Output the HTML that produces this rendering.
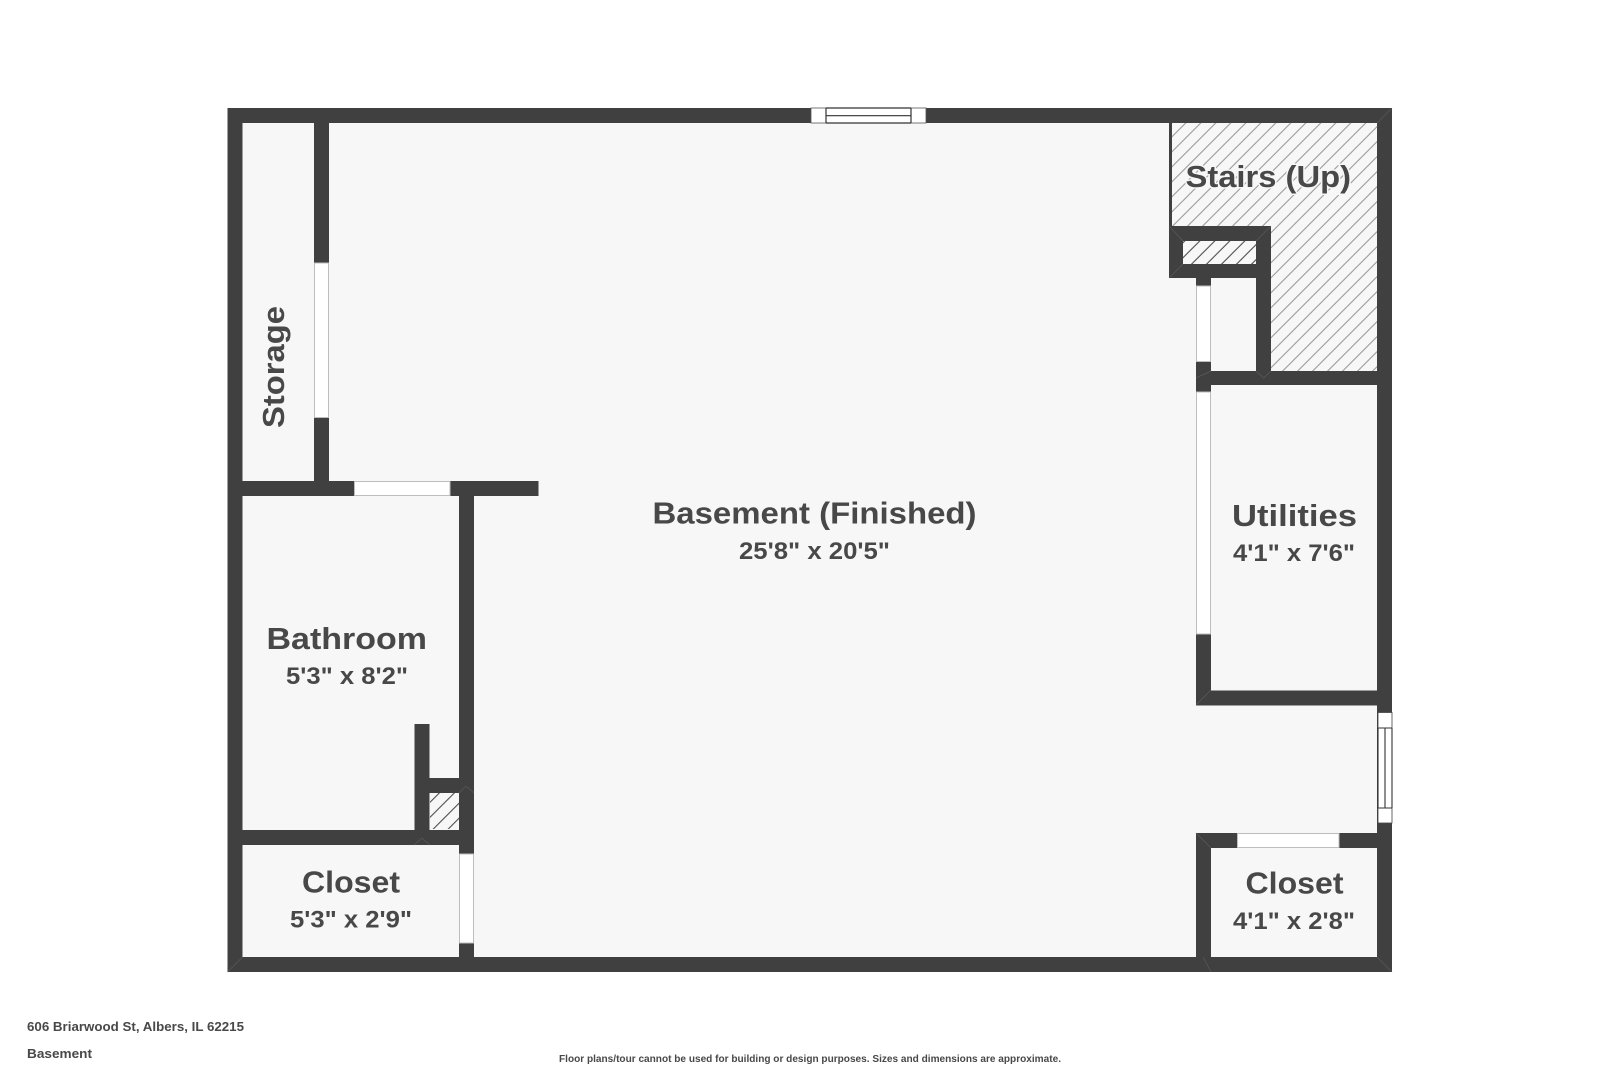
<!DOCTYPE html>
<html>
<head>
<meta charset="utf-8">
<style>
html,body{margin:0;padding:0;background:#fff;width:1620px;height:1080px;overflow:hidden}
svg{display:block}
text{font-family:"Liberation Sans",sans-serif;font-weight:700;fill:#484848}
</style>
</head>
<body>
<svg width="1620" height="1080" viewBox="0 0 1620 1080" xmlns="http://www.w3.org/2000/svg">
<defs>
<pattern id="h" width="15" height="15" patternUnits="userSpaceOnUse" patternTransform="translate(3.7 0)">
<path d="M-2 2L2 -2M0 15L15 0M13 17L17 13" stroke="#959595" stroke-width="1" fill="none"/>
</pattern>
<pattern id="k" width="15" height="15" patternUnits="userSpaceOnUse" patternTransform="translate(0.7 0)">
<path d="M-2 2L2 -2M0 15L15 0M13 17L17 13" stroke="#444" stroke-width="1" fill="none"/>
</pattern>
<pattern id="k2" width="15" height="15" patternUnits="userSpaceOnUse" patternTransform="translate(2.3 0)">
<path d="M-2 2L2 -2M0 15L15 0M13 17L17 13" stroke="#444" stroke-width="1" fill="none"/>
</pattern>
</defs>
<rect x="227.5" y="108" width="1164.5" height="864" fill="#f7f7f7"/>
<!-- stairs hatch -->
<path d="M1172 123H1377V371H1271V226H1172Z" fill="url(#h)"/>
<rect x="1183" y="241" width="73" height="23" fill="url(#k)"/>
<rect x="430" y="793" width="29" height="36" fill="url(#k2)"/>
<!-- walls -->
<g fill="#404040">
<rect x="227.5" y="108" width="1164.5" height="15"/>
<rect x="227.5" y="957" width="1164.5" height="15"/>
<rect x="227.5" y="108" width="15" height="864"/>
<rect x="1377" y="108" width="15" height="864"/>
<rect x="314" y="123" width="15" height="358"/>
<rect x="227.5" y="481" width="311" height="15"/>
<rect x="459" y="481" width="15" height="491"/>
<rect x="227.5" y="830" width="246.5" height="15"/>
<rect x="414.5" y="724" width="15" height="121"/>
<rect x="414.5" y="778" width="59.5" height="15"/>
<rect x="1169" y="123" width="3" height="103"/>
<rect x="1169" y="226" width="102" height="15"/>
<rect x="1169" y="226" width="14" height="52"/>
<rect x="1169" y="264" width="102" height="14"/>
<rect x="1256" y="226" width="15" height="159"/>
<rect x="1196" y="264" width="15" height="441"/>
<rect x="1196" y="371" width="196" height="14"/>
<rect x="1196" y="690.500" width="196" height="15"/>
<rect x="1196" y="833" width="196" height="15"/>
<rect x="1196" y="833" width="15" height="139"/>
</g>
<!-- wall seams -->
<g stroke="#5a5a5a" stroke-width="0.7" fill="none">
<path d="M227.500 972L242.500 957M1392 108L1377 123M1392 972L1377 957M1196 705L1211 690M1196 833L1211 848"/>
<path d="M1169 226L1183 241M1256 241L1271 226M1169 278L1183 264M1196 378L1211 371M1256 371L1263.500 378L1271 371"/>
<path d="M1211 972L1203 957M474 793L466 786M459 793L466 786M414 845L422 838L430 845"/>
</g>
<!-- top window -->
<g>
<rect x="811" y="108" width="115" height="15" fill="#fff" stroke="#555" stroke-width="0.8"/>
<path d="M826 108V123M911 108V123M826 108H911M826 123H911" stroke="#333" stroke-width="1.200" fill="none"/>
<path d="M826 115.700H911" stroke="#333" stroke-width="1.200"/>
</g>
<!-- right window -->
<g>
<rect x="1378" y="712.500" width="14" height="110.500" fill="#fff" stroke="#444" stroke-width="0.8"/>
<path d="M1378 728H1392M1378 808H1392M1378 728V808M1392 728V808M1385 728V808" stroke="#333" stroke-width="1.100" fill="none"/>
</g>
<!-- door openings -->
<g fill="#fff" stroke="#bdbdbd" stroke-width="1">
<rect x="314.500" y="263" width="14" height="154.500"/>
<rect x="354.500" y="481.500" width="95.500" height="14"/>
<rect x="459.500" y="854" width="14" height="89"/>
<rect x="1196.500" y="286" width="14" height="75.500"/>
<rect x="1196.500" y="392" width="14" height="242"/>
<rect x="1237.500" y="833.500" width="101.500" height="14"/>
</g>
<!-- labels -->
<text x="652.500" y="523.500" font-size="31" textLength="324" lengthAdjust="spacingAndGlyphs">Basement (Finished)</text>
<text x="739" y="559" font-size="24" textLength="151" lengthAdjust="spacingAndGlyphs">25'8" x 20'5"</text>
<text x="1185.500" y="187" font-size="31" textLength="165.500" lengthAdjust="spacingAndGlyphs" stroke="#f7f7f7" stroke-width="3" paint-order="stroke">Stairs (Up)</text>
<text x="1232" y="526" font-size="31" textLength="125" lengthAdjust="spacingAndGlyphs">Utilities</text>
<text x="1233" y="561" font-size="24" textLength="122" lengthAdjust="spacingAndGlyphs">4'1" x 7'6"</text>
<text x="266.500" y="649" font-size="31" textLength="160.500" lengthAdjust="spacingAndGlyphs">Bathroom</text>
<text x="286" y="684" font-size="24" textLength="122" lengthAdjust="spacingAndGlyphs">5'3" x 8'2"</text>
<text x="302" y="892.500" font-size="31" textLength="98" lengthAdjust="spacingAndGlyphs">Closet</text>
<text x="290" y="927.500" font-size="24" textLength="122" lengthAdjust="spacingAndGlyphs">5'3" x 2'9"</text>
<text x="1245.500" y="893.500" font-size="31" textLength="98" lengthAdjust="spacingAndGlyphs">Closet</text>
<text x="1233" y="929" font-size="24" textLength="122" lengthAdjust="spacingAndGlyphs">4'1" x 2'8"</text>
<text transform="translate(284 428) rotate(-90)" font-size="31" textLength="122" lengthAdjust="spacingAndGlyphs">Storage</text>
<text x="27" y="1031" font-size="13" textLength="217" lengthAdjust="spacingAndGlyphs">606 Briarwood St, Albers, IL 62215</text>
<text x="27" y="1058" font-size="13" textLength="65" lengthAdjust="spacingAndGlyphs">Basement</text>
<text x="559" y="1062" font-size="10" textLength="502" lengthAdjust="spacingAndGlyphs">Floor plans/tour cannot be used for building or design purposes. Sizes and dimensions are approximate.</text>
</svg>
</body>
</html>
